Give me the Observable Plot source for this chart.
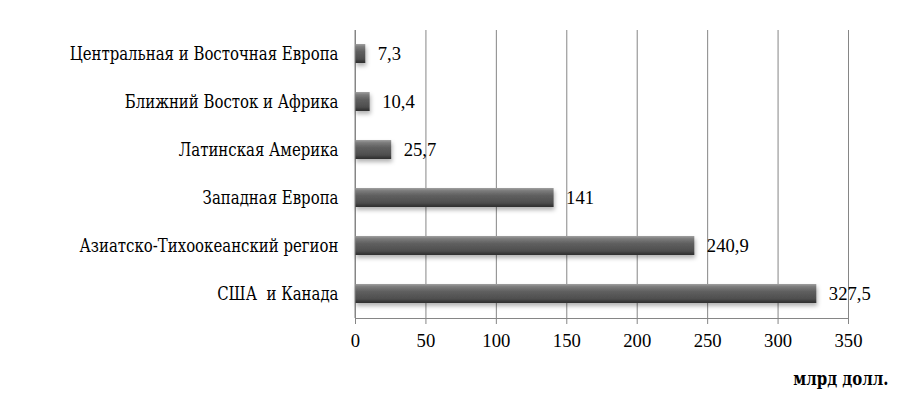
<!DOCTYPE html>
<html>
<head>
<meta charset="utf-8">
<script src="https://cdn.jsdelivr.net/npm/d3@7"></script>
<script src="https://cdn.jsdelivr.net/npm/@observablehq/plot@0.6"></script>
<style>
  html, body { margin: 0; padding: 0; background: #fff; }
  #chart svg text { font-family: "Liberation Serif", serif; }
</style>
</head>
<body>
<div id="chart"></div>
<script>
const regions = [
  "Центральная и Восточная Европа",
  "Ближний Восток и Африка",
  "Латинская Америка",
  "Западная Европа",
  "Азиатско-Тихоокеанский регион",
  "США  и Канада"
];
const values = [7.3, 10.4, 25.7, 141, 240.9, 327.5];
const xTicks = [0, 50, 100, 150, 200, 250, 300, 350];
const unitLabel = "млрд долл.";

const data = regions.map((r, i) => ({region: r, value: values[i]}));
const fmt = v => String(v).replace(".", ",");

const chart = Plot.plot({
  width: 900,
  height: 398,
  marginLeft: 355,
  marginRight: 52,
  marginTop: 30,
  marginBottom: 80,
  style: {fontFamily: "Liberation Serif", fontSize: "18px", color: "#000", background: "#fff"},
  x: {domain: [0, 350], ticks: xTicks},
  y: {domain: regions, paddingInner: 0.6, paddingOuter: 0.3},
  marks: [
    Plot.gridX(xTicks, {stroke: "#868686", strokeOpacity: 1, strokeWidth: 1}),
    Plot.barX(data, {x: "value", y: "region", fill: "url(#barGrad)"}),
    Plot.text(data, {x: "value", y: "region", text: d => fmt(d.value), textAnchor: "start", dx: 12, fontSize: 18.67, fill: "#000"}),
    Plot.axisX(xTicks, {tickSize: 6, tickPadding: 9, stroke: "#868686", fill: "#000", fontSize: 18.67, tickFormat: d => String(d), label: null}),
    Plot.axisY({tickSize: 0, tickPadding: 17, fill: "#000", fontSize: 18.67, label: null}),
    Plot.text([unitLabel], {frameAnchor: "bottom-right", dx: 40, dy: 66, textAnchor: "end", fontWeight: "bold", fontSize: 18.67, fill: "#000"})
  ]
});

const svg = d3.select(chart);
const defs = svg.insert("defs", ":first-child");
const g = defs.append("linearGradient").attr("id", "barGrad").attr("x1", 0).attr("y1", 0).attr("x2", 0).attr("y2", 1);
[["0%", "#a0a0a0"], ["14%", "#7c7c7c"], ["40%", "#5f5f5f"], ["78%", "#4e4e4e"], ["100%", "#2c2c2c"]]
  .forEach(([o, c]) => g.append("stop").attr("offset", o).attr("stop-color", c));
const f = defs.append("filter").attr("id", "barShadow").attr("x", "-10%").attr("y", "-30%").attr("width", "130%").attr("height", "190%");
f.append("feDropShadow").attr("dx", 1).attr("dy", 3).attr("stdDeviation", 2).attr("flood-color", "#000").attr("flood-opacity", 0.3);
svg.selectAll("g[aria-label=bar]").attr("filter", "url(#barShadow)");

const xs = chart.scale("x");
const yBottom = 398 - 80, yTop = 30;
svg.append("line").attr("x1", xs.apply(0)).attr("x2", xs.apply(350)).attr("y1", yBottom + 0.5).attr("y2", yBottom + 0.5).attr("stroke", "#868686");
svg.append("line").attr("x1", xs.apply(0)).attr("x2", xs.apply(0)).attr("y1", yTop).attr("y2", yBottom).attr("stroke", "#868686");

document.getElementById("chart").appendChild(chart);

// Cyrillic text: serif face with Cyrillic glyphs, narrowed horizontally about its anchor to a Times-like width
svg.selectAll("text").each(function () {
  if (/[\u0400-\u04FF]/.test(this.textContent)) {
    this.style.fontFamily = "'DejaVu Serif', serif";
    const ax = parseFloat(this.getAttribute("x")) || 0;
    const ay = parseFloat(this.getAttribute("y")) || 0;
    const t = this.getAttribute("transform") || "";
    this.setAttribute("transform", `${t} translate(${ax},${ay}) scale(0.8,1) translate(${-ax},${-ay})`);
  }
});
</script>
</body>
</html>
